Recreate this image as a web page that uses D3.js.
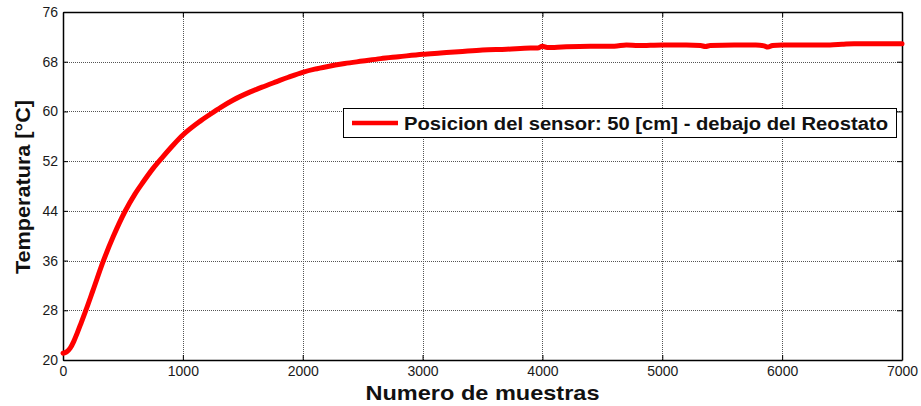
<!DOCTYPE html>
<html>
<head>
<meta charset="utf-8">
<script src="https://cdn.jsdelivr.net/npm/d3@7"></script>
<style>
  html, body { margin: 0; padding: 0; background: #fff; }
  svg { display: block; font-family: "Liberation Sans", Arial, sans-serif; }
</style>
</head>
<body>
<svg id="chart" width="921" height="406"></svg>
<script>
// Sample index of each reading
const samples = [0, 30, 60, 90, 120, 150, 189, 250, 336, 420, 517, 600, 667, 750, 833, 920,
  1000, 1142, 1225, 1320, 1417, 1558, 1660, 1783, 1880, 2000, 2100, 2200, 2350, 2500, 2650,
  2800, 3000, 3150, 3300, 3500, 3700, 3900, 3960, 4000, 4040, 4100, 4200, 4400, 4600, 4700,
  4800, 5000, 5200, 5320, 5360, 5400, 5600, 5780, 5850, 5880, 5920, 6000, 6200, 6400, 6500,
  6600, 6800, 7000];
// Measured temperature [°C]
const temperatures = [21.1, 21.3, 21.9, 23.0, 24.4, 25.9, 27.9, 31.2, 35.9, 39.9, 43.9, 46.7,
  48.6, 50.8, 52.7, 54.6, 56.2, 58.4, 59.5, 60.7, 61.8, 63.1, 63.9, 64.8, 65.5, 66.3, 66.8,
  67.2, 67.7, 68.1, 68.5, 68.8, 69.2, 69.4, 69.6, 69.9, 70.0, 70.2, 70.2, 70.5, 70.3, 70.3,
  70.4, 70.5, 70.5, 70.7, 70.6, 70.7, 70.7, 70.6, 70.45, 70.6, 70.7, 70.7, 70.55, 70.35, 70.6,
  70.7, 70.7, 70.7, 70.8, 70.9, 70.9, 70.9];

const xTicks = [0, 1000, 2000, 3000, 4000, 5000, 6000, 7000];
const yTicks = [20, 28, 36, 44, 52, 60, 68, 76];
const seriesLabel = "Posicion del sensor: 50 [cm] - debajo del Reostato";
const xTitle = "Numero de muestras";
const yTitle = "Temperatura [°C]";

const svg = d3.select("#chart");
const m = { left: 63, right: 19, top: 12, bottom: 46 };
const W = 921, H = 406;
const x = d3.scaleLinear().domain([0, 7000]).range([m.left, W - m.right]);
const y = d3.scaleLinear().domain([20, 76]).range([H - m.bottom, m.top]);

// Grid (dotted)
const grid = svg.append("g").attr("stroke", "#555").attr("stroke-width", 1)
  .attr("stroke-dasharray", "1,1");
grid.selectAll("line.gx").data(xTicks.slice(1, -1)).join("line")
  .attr("x1", d => Math.round(x(d)) + 0.5).attr("x2", d => Math.round(x(d)) + 0.5)
  .attr("y1", y(20)).attr("y2", y(76));
grid.selectAll("line.gy").data(yTicks.slice(1, -1)).join("line")
  .attr("y1", d => Math.round(y(d)) + 0.5).attr("y2", d => Math.round(y(d)) + 0.5)
  .attr("x1", x(0)).attr("x2", x(7000));

// Axes with inward ticks on all four sides
const tickLen = 5;
const fmt = d3.format("d");
const axB = svg.append("g").attr("transform", `translate(0,${y(20)})`)
  .call(d3.axisBottom(x).tickValues(xTicks).tickFormat(fmt).tickSizeInner(-tickLen).tickSizeOuter(0).tickPadding(6));
const axT = svg.append("g").attr("transform", `translate(0,${y(76)})`)
  .call(d3.axisTop(x).tickValues(xTicks).tickSizeInner(-tickLen).tickSizeOuter(0).tickFormat(""));
const axL = svg.append("g").attr("transform", `translate(${x(0)},0)`)
  .call(d3.axisLeft(y).tickValues(yTicks).tickFormat(fmt).tickSizeInner(-tickLen).tickSizeOuter(0).tickPadding(5));
const axR = svg.append("g").attr("transform", `translate(${x(7000)},0)`)
  .call(d3.axisRight(y).tickValues(yTicks).tickSizeInner(-tickLen).tickSizeOuter(0).tickFormat(""));
[axB, axT, axL, axR].forEach(g => {
  g.selectAll("path.domain").attr("stroke", "#000").attr("stroke-width", 1.5);
  g.selectAll(".tick line").attr("stroke", "#000");
  g.selectAll("text").attr("font-size", 14).attr("fill", "#1a1a1a")
    .attr("font-family", "'Liberation Sans', Arial, sans-serif");
});

// Temperature curve
const data = samples.map((s, i) => [s, temperatures[i]]);
svg.append("path").datum(data)
  .attr("fill", "none").attr("stroke", "#ff0000").attr("stroke-width", 5)
  .attr("stroke-linejoin", "round").attr("stroke-linecap", "round")
  .attr("d", d3.line().x(d => x(d[0])).y(d => y(d[1])).curve(d3.curveMonotoneX));

// Axis titles
svg.append("text").attr("x", (x(0) + x(7000)) / 2).attr("y", 400)
  .attr("text-anchor", "middle").attr("font-weight", "bold").attr("font-size", 21)
  .attr("textLength", 234).attr("lengthAdjust", "spacingAndGlyphs")
  .attr("fill", "#111").text(xTitle);
svg.append("text").attr("transform", `translate(30,187) rotate(-90)`)
  .attr("text-anchor", "middle").attr("font-weight", "bold").attr("font-size", 20)
  .attr("textLength", 174).attr("lengthAdjust", "spacingAndGlyphs")
  .attr("fill", "#111").text(yTitle);

// Legend
const lg = svg.append("g");
lg.append("rect").attr("x", 343.5).attr("y", 108.5).attr("width", 553).attr("height", 29)
  .attr("fill", "#fff").attr("stroke", "#000").attr("stroke-width", 1);
lg.append("line").attr("x1", 352).attr("x2", 398).attr("y1", 123).attr("y2", 123)
  .attr("stroke", "#ff0000").attr("stroke-width", 4.5);
lg.append("text").attr("x", 404).attr("y", 129.5).attr("font-weight", "bold")
  .attr("font-size", 18).attr("textLength", 484).attr("lengthAdjust", "spacingAndGlyphs")
  .attr("fill", "#111").text(seriesLabel);
</script>
</body>
</html>
